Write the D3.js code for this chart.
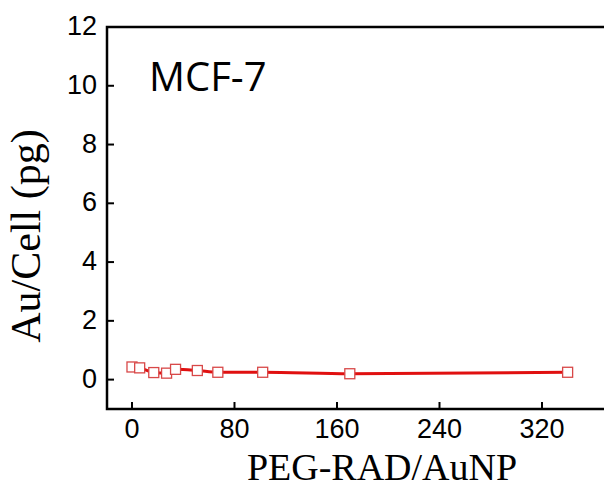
<!DOCTYPE html>
<html>
<head>
<meta charset="utf-8">
<script src="https://cdn.jsdelivr.net/npm/d3@7"></script>
<style>
  body { margin: 0; background: #fff; }
  svg { display: block; }
  .tick-label { font-family: "Liberation Sans", Arial, Helvetica, sans-serif; font-size: 27px; }
  .axis-title { font-family: "Liberation Serif", "Times New Roman", serif; }
  .panel { font-family: "Open Sans", sans-serif; font-size: 40px; }
</style>
</head>
<body>
<script>
// data
var ratio = [0, 6, 17, 27, 34, 51, 67, 102, 170, 340];
var auPerCell = [0.43, 0.40, 0.24, 0.22, 0.35, 0.31, 0.25, 0.25, 0.20, 0.25];
var xTicks = [0, 80, 160, 240, 320];
var yTicks = [0, 2, 4, 6, 8, 10, 12];
var cellLine = "MCF-7";

var W = 604, H = 493;
var pLeft = 107, pTop = 27, pBottom = 409, pRight = 640; // right edge runs off the page

var svg = d3.select("body").append("svg")
  .attr("width", W)
  .attr("height", H);

var x = d3.scaleLinear().domain([-19.5, 320]).range([pLeft, 542]);
var y = d3.scaleLinear().domain([-1, 12]).range([pBottom, pTop]);

// frame (no right side visible)
svg.append("path")
  .attr("d", "M" + pRight + "," + pTop + "H" + pLeft + "V" + pBottom + "H" + pRight)
  .attr("fill", "none")
  .attr("stroke", "#000")
  .attr("stroke-width", 2.5);

// y axis ticks (inward) + labels
var yAxis = svg.append("g");
yAxis.selectAll("line").data(yTicks).enter().append("line")
  .attr("x1", pLeft).attr("x2", pLeft + 7)
  .attr("y1", function(d) { return y(d); })
  .attr("y2", function(d) { return y(d); })
  .attr("stroke", "#000").attr("stroke-width", 2);
yAxis.selectAll("text").data(yTicks).enter().append("text")
  .attr("class", "tick-label")
  .attr("x", 97)
  .attr("y", function(d) { return y(d); })
  .attr("dy", "0.3em")
  .attr("text-anchor", "end")
  .text(function(d) { return d; });

// x axis ticks (inward) + labels
var xAxis = svg.append("g");
xAxis.selectAll("line").data(xTicks).enter().append("line")
  .attr("x1", function(d) { return x(d); })
  .attr("x2", function(d) { return x(d); })
  .attr("y1", pBottom).attr("y2", pBottom - 7)
  .attr("stroke", "#000").attr("stroke-width", 2);
xAxis.selectAll("text").data(xTicks).enter().append("text")
  .attr("class", "tick-label")
  .attr("x", function(d) { return x(d); })
  .attr("y", 438)
  .attr("text-anchor", "middle")
  .text(function(d) { return d; });

// axis titles
svg.append("text")
  .attr("class", "axis-title")
  .attr("x", 382).attr("y", 480)
  .attr("text-anchor", "middle")
  .style("font-size", "38px")
  .text("PEG-RAD/AuNP");

svg.append("text")
  .attr("class", "axis-title")
  .attr("transform", "translate(40,236) rotate(-90)")
  .attr("text-anchor", "middle")
  .style("font-size", "42px")
  .text("Au/Cell (pg)");

// panel label
svg.append("text")
  .attr("class", "panel")
  .attr("x", 149).attr("y", 91)
  .text(cellLine);

// series
var pts = ratio.map(function(r, i) { return { r: r, v: auPerCell[i] }; });

var line = d3.line()
  .x(function(d) { return x(d.r); })
  .y(function(d) { return y(d.v); })
  .curve(d3.curveMonotoneX);

svg.append("path")
  .datum(pts)
  .attr("d", line)
  .attr("fill", "none")
  .attr("stroke", "#e01010")
  .attr("stroke-width", 3);

var s = 10;
svg.selectAll("rect.pt").data(pts).enter().append("rect")
  .attr("class", "pt")
  .attr("x", function(d) { return x(d.r) - s / 2; })
  .attr("y", function(d) { return y(d.v) - s / 2; })
  .attr("width", s).attr("height", s)
  .attr("fill", "#fff")
  .attr("stroke", "#d84848")
  .attr("stroke-width", 1.3);
</script>
</body>
</html>
